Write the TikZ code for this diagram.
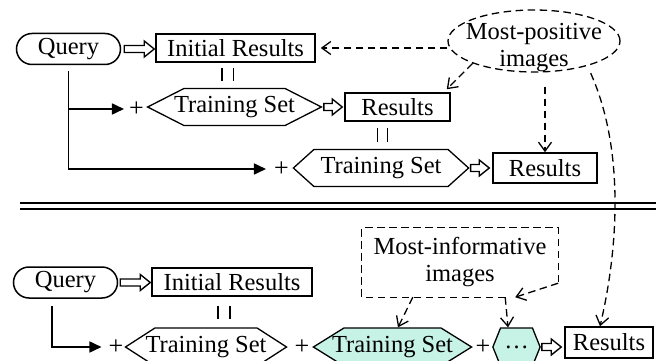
\documentclass[tikz,border=0pt]{standalone}
\usepackage{fontspec}
\setmainfont{Liberation Serif}
\usetikzlibrary{calc,positioning,arrows.meta,shapes.geometric,shapes.symbols}

\definecolor{hexfill}{RGB}{198,243,229}

\tikzset{
  every node/.style={font=\fontsize{24.5}{27}\selectfont},
  box/.style={draw, line width=1.5pt, inner sep=0pt, minimum height=28pt},
  querybox/.style={draw, line width=1.5pt, rounded corners=15.5pt, inner sep=0pt,
    minimum width=104pt, minimum height=31pt},
  hexbox/.style={draw, line width=1.3pt, signal, signal to=west and east,
    inner ysep=0pt, minimum height=37pt},
  plus/.style={inner sep=0pt, font=\fontsize{26}{26}\selectfont},
  dasharrow/.style={line width=1.3pt, dash pattern=on 7.5pt off 4.5pt,
    -{Straight Barb[length=9pt,width=13pt]}},
  feedarrow/.style={line width=1.7pt, -{Triangle[length=12pt,width=11pt]}},
  marks/.style={line width=1.2pt},
  hollow/.style={line width=1.4pt, to path={
    let \p1=(\tikztostart), \p2=(\tikztotarget) in
    (\x1,\y1+3.5pt) -- (\x2-10pt,\y1+3.5pt) -- (\x2-10pt,\y1+8pt) -- (\x2,\y1)
    -- (\x2-10pt,\y1-8pt) -- (\x2-10pt,\y1-3.5pt) -- (\x1,\y1-3.5pt) -- cycle}}
}

\begin{document}
\begin{tikzpicture}[x=1pt,y=-1pt]
  \useasboundingbox (0,0) rectangle (656,361);
  \clip (0,0) rectangle (656,361);

  % --- upper scheme: feedback on most-positive images
  \node[querybox] (q1) at (68.5,49) {Query};
  \node[box, minimum width=159pt] (ir1) at (235.5,48) {Initial Results};
  \node[plus] (p2) at (136.5,109) {+};
  \node[hexbox, inner xsep=-9.9pt, signal pointer angle=54] (ts2) at (234.5,107) {Training Set};
  \node[box, minimum width=105pt] (res2) at (397.5,107) {Results};
  \node[plus] (p3) at (281.5,169) {+};
  \node[hexbox, inner xsep=6.6pt, signal pointer angle=84] (ts3) at (381,168) {Training Set};
  \node[box, minimum width=104pt, minimum height=30pt] (res3) at (545,168) {Results};

  \node[ellipse, draw, line width=1.3pt, dash pattern=on 7.5pt off 4.5pt,
    minimum width=172pt, minimum height=62pt] (mp) at (534,41) {};
  \node[align=center, inner sep=0pt] (mptext) at (534,48) {Most-positive\\images};

  \draw[hollow] ([xshift=3pt]q1.east) to ([xshift=-1pt]ir1.west);
  \draw[hollow] ([xshift=1pt]ts2.east) to ([xshift=-2pt]res2.west);
  \draw[hollow] ([xshift=1pt]ts3.east) to ([xshift=-3pt]res3.west);

  \draw[feedarrow, shorten <=6pt, shorten >=5pt] (q1.south) |- (p2.west);
  \draw[feedarrow, shorten <=6pt, shorten >=8pt] (q1.south) |- (p3.west);

  \foreach \dx in {-13.5,-2}
    \draw[marks] ([xshift=\dx pt,yshift=-5pt]ir1.south) -- ++(0,13);
  \foreach \dx in {-20,-10}
    \draw[marks] ([xshift=\dx pt,yshift=-6pt]res2.south) -- ++(0,14);

  \draw[dasharrow] (mp.west |- ir1.east) -- ([xshift=5pt]ir1.east);
  \draw[dasharrow] (mp.200) -- ([xshift=-4pt,yshift=3pt]res2.north east);
  \draw[dasharrow, shorten <=14pt] (res3.north |- mp.south) -- (res3.north);

  % --- separator
  \draw[line width=1.8pt, double, double distance=3.5pt] (20,206) -- (656,206);

  % --- lower scheme: feedback on most-informative images
  \node[querybox] (q2) at (65.5,282.5) {Query};
  \node[box, minimum width=160pt] (ir2) at (232,282) {Initial Results};
  \node[plus] (p4) at (116,347) {+};
  \node[hexbox, minimum height=38pt, inner xsep=-9.4pt, signal pointer angle=65.6] (ts4) at (206,347) {Training Set};
  \node[plus] (p5) at (302,347) {+};
  \node[hexbox, fill=hexfill, minimum height=38pt, inner xsep=-11.9pt, signal pointer angle=63.8] (ts5) at (392.5,347) {Training Set};
  \node[plus] (p6) at (483,347) {+};
  \node[hexbox, fill=hexfill, minimum height=38pt, inner xsep=3.7pt, signal pointer angle=136] (dots) at (516.5,347) {\dots};
  \node[box, minimum width=88pt, minimum height=31pt] (res5) at (609,342.5) {Results};

  \node[align=center, minimum width=196pt, minimum height=69pt, inner sep=0pt] (mi) at (460,262.5)
    {Most-informative\\images};
  \draw[line width=1.3pt, dash pattern=on 7.5pt off 4.5pt]
    ($(mi.south east)+(-53,0)$) -- (mi.south west) -- (mi.north west)
    -- (mi.north east) -- ($(mi.south east)+(0,-14)$);

  \draw[hollow] ([xshift=2pt]q2.east) to ([xshift=-1pt]ir2.west);
  \draw[hollow] ([xshift=1pt]dots.east) to ([xshift=-3pt]res5.west);

  \draw[feedarrow, shorten <=7pt, shorten >=7pt] ([xshift=-13.5pt]q2.south) |- (p4.west);

  \foreach \dx in {-14,-2}
    \draw[marks] ([xshift=\dx pt,yshift=-9pt]ir2.south) -- ++(0,13);

  \draw[dasharrow] ($(mi.south east)+(0,-14)$) -- ($(mi.south east)+(-43,0)$);
  \draw[dasharrow] ($(mi.south east)+(-53,0)$) -- ([xshift=-8.5pt]dots.north);
  \draw[dasharrow] ($(mi.south west)+(51,0)$) -- ([xshift=5.5pt]ts5.north);

  \draw[dasharrow, shorten <=8pt] (mp.335) .. controls (625,150) and (618,250) .. ([xshift=-9pt]res5.north);
\end{tikzpicture}
\end{document}
